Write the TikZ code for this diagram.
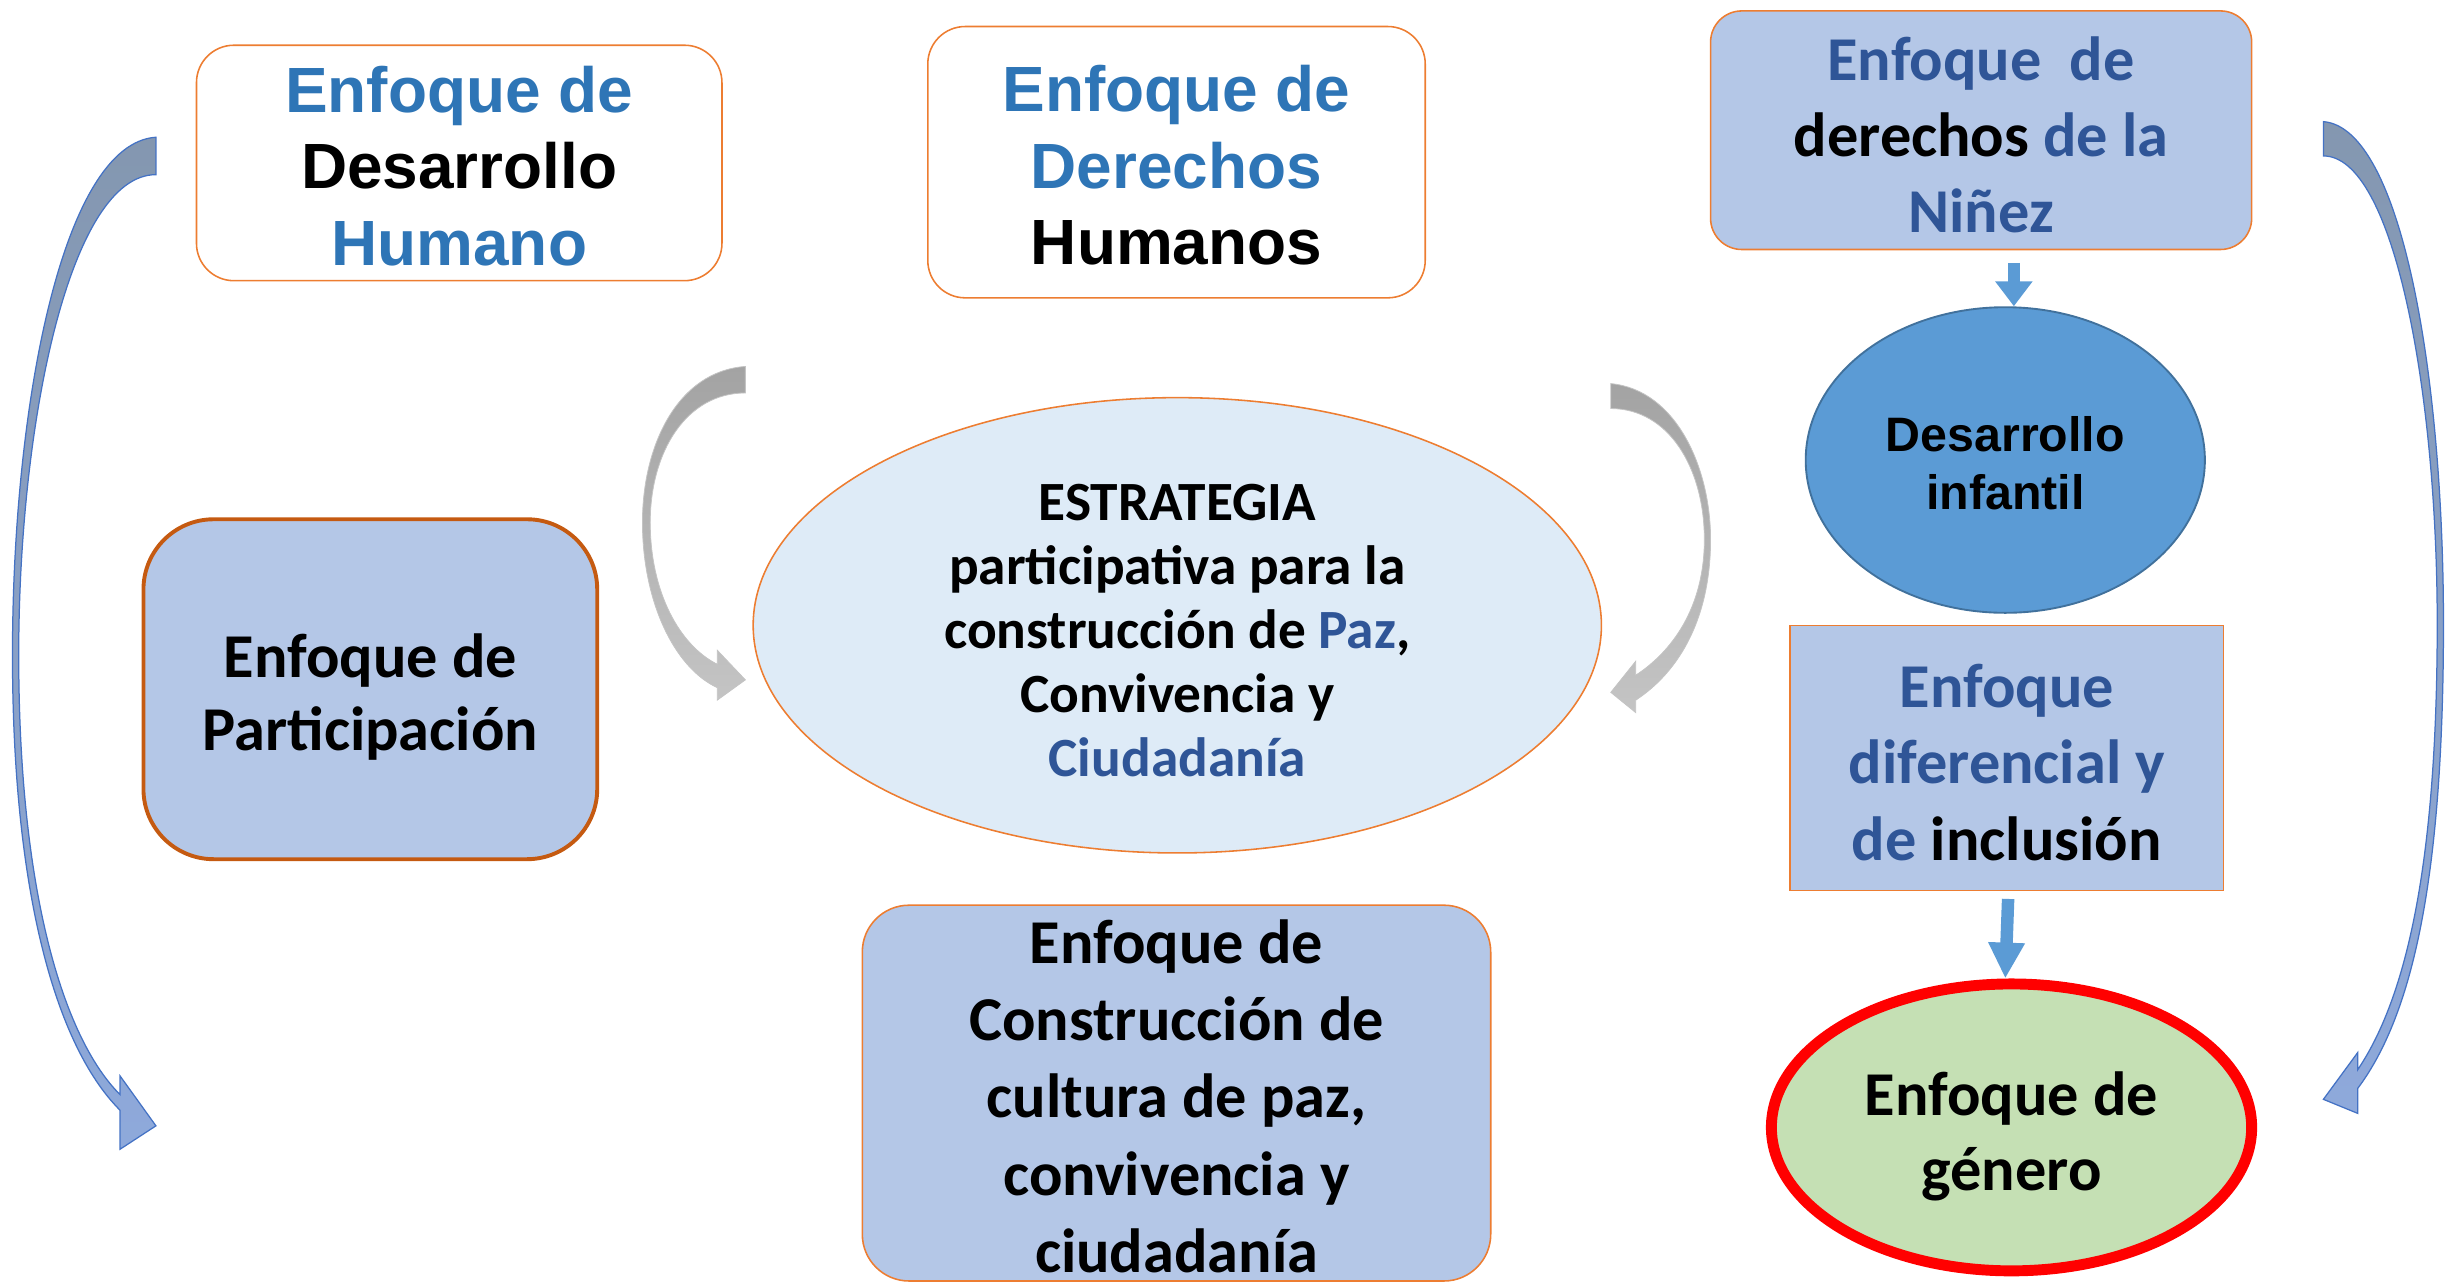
\documentclass[tikz,border=0pt]{standalone}
\usepackage{fontspec}
\setmainfont{Carlito}
\newfontfamily\arialf{Liberation Sans}
\usetikzlibrary{shapes.geometric,arrows.meta,calc}
\definecolor{borange}{HTML}{ED7D31}
\definecolor{bdark}{HTML}{C55A11}
\definecolor{lblue}{HTML}{B4C7E7}
\definecolor{tblue}{HTML}{2E75B6}
\definecolor{dblue}{HTML}{2F5597}
\definecolor{pale}{HTML}{DEEBF7}
\definecolor{midblue}{HTML}{5B9BD5}
\definecolor{edgeblue}{HTML}{41719C}
\definecolor{lgreen}{HTML}{C5E0B4}
\definecolor{arrtop}{HTML}{8497B0}
\definecolor{arrbot}{HTML}{8EA9DB}
\definecolor{arredge}{HTML}{4472C4}
\definecolor{gtop}{HTML}{A3A3A3}
\definecolor{gbot}{HTML}{C4C4C4}
\tikzset{
  boxbase/.style={inner sep=0pt},
  txt/.style={inner sep=0pt, align=center, font=\bfseries},
  whitebox/.style={boxbase, draw=borange, line width=1pt, fill=white, rounded corners=24pt},
  bluebox/.style={boxbase, draw=borange, line width=1pt, fill=lblue},
  bigblue/.style={top color=arrtop, bottom color=arrbot, draw=arredge, line width=0.8pt},
  greyarr/.style={top color=gtop, bottom color=gbot, draw=gbot, line width=0.5pt},
  sarrow/.style={draw=midblue, line width=8pt},
}
\begin{document}
\begin{tikzpicture}[x=1pt,y=-1pt]
\useasboundingbox (0,0) rectangle (1568,823);

% big blue curved arrows
\path[bigblue] (100,88) .. controls (40,92) and (8,260) .. (8,420)
  .. controls (8,570) and (35,670) .. (77,712) -- (77,737) -- (100,722) -- (77,690) -- (77,702)
  .. controls (40,665) and (12,570) .. (12,420) .. controls (12,270) and (45,112) .. (100,112) -- cycle;
\path[bigblue] (1490,78) .. controls (1540,82) and (1567,240) .. (1567,400)
  .. controls (1567,560) and (1548,650) .. (1512,698) -- (1512,714) -- (1490,705) -- (1512,675) -- (1512,686)
  .. controls (1543,640) and (1563,555) .. (1563,400) .. controls (1563,250) and (1535,100) .. (1490,100) -- cycle;

% grey curved arrows
\path[greyarr] (478,235) .. controls (435,238) and (412,285) .. (412,335)
  .. controls (412,385) and (432,428) .. (460,441) -- (460,449) -- (478,436) -- (460,417) -- (460,426)
  .. controls (436,414) and (417,380) .. (417,335) .. controls (417,290) and (440,252) .. (478,252) -- cycle;
\path[greyarr] (1033,246) .. controls (1075,250) and (1097,300) .. (1097,346)
  .. controls (1097,395) and (1078,430) .. (1049,449) -- (1049,457) -- (1033,444) -- (1049,424) -- (1049,433)
  .. controls (1072,418) and (1093,390) .. (1093,346) .. controls (1093,300) and (1070,262) .. (1033,262) -- cycle;

% shapes
\node[whitebox, minimum width=337pt, minimum height=151pt] (dh) at (294.5,104.5) {};
\node[whitebox, minimum width=319pt, minimum height=174pt] (ddhh) at (754.5,104) {};
\node[bluebox, rounded corners=20pt, minimum width=347pt, minimum height=153pt] (ninez) at (1270.5,83.5) {};
\node[ellipse, boxbase, draw=edgeblue, line width=1.2pt, fill=midblue, minimum width=256pt, minimum height=196pt] (dinf) at (1286,295) {};
\node[bluebox, minimum width=278pt, minimum height=170pt] (dif) at (1287,486) {};
\node[ellipse, boxbase, draw=red, line width=7pt, fill=lgreen, minimum width=308pt, minimum height=184pt] (gen) at (1290,723) {};
\node[bluebox, draw=bdark, line width=2.5pt, rounded corners=45pt, minimum width=291pt, minimum height=218pt] (part) at (237.5,442) {};
\node[ellipse, boxbase, draw=borange, line width=1pt, fill=pale, minimum width=544pt, minimum height=292pt] (estr) at (755,401) {};
\node[bluebox, rounded corners=30pt, minimum width=403pt, minimum height=241pt] (cons) at (754.5,701) {};

% texts
\node[txt, font=\arialf\bfseries\fontsize{41}{49}\selectfont] (dht) at ($(dh.center)+(0,2)$)
  {\textcolor{tblue}{Enfoque de}\\Desarrollo\\\textcolor{tblue}{Humano}};
\node[txt, font=\arialf\bfseries\fontsize{41}{49}\selectfont] (ddhht) at ($(ddhh.center)+(0,2)$)
  {\textcolor{tblue}{Enfoque de}\\\textcolor{tblue}{Derechos}\\Humanos};
\node[txt, font=\bfseries\fontsize{40}{49}\selectfont] (ninezt) at ($(ninez.center)+(0,3)$)
  {\textcolor{dblue}{Enfoque\ \ de}\\derechos \textcolor{dblue}{de la}\\\textcolor{dblue}{Niñez}};
\node[txt, font=\arialf\bfseries\fontsize{31}{37}\selectfont] (dinft) at ($(dinf.center)+(0,2)$)
  {Desarrollo\\infantil};
\node[txt, font=\bfseries\fontsize{40}{49}\selectfont] (dift) at ($(dif.center)+(0,3)$)
  {\textcolor{dblue}{Enfoque}\\\textcolor{dblue}{diferencial y}\\\textcolor{dblue}{de} inclusión};
\node[txt, font=\bfseries\fontsize{40}{48}\selectfont] (gent) at ($(gen.center)+(0,6)$)
  {Enfoque de\\género};
\node[txt, font=\bfseries\fontsize{40}{47}\selectfont] (partt) at ($(part.center)+(0,5)$)
  {Enfoque de\\Participación};
\node[txt, font=\bfseries\fontsize{35.5}{41}\selectfont] (estrt) at ($(estr.center)+(0,3.5)$)
  {ESTRATEGIA\\participativa para la\\construcción de \textcolor{dblue}{Paz},\\Convivencia y\\\textcolor{dblue}{Ciudadanía}};
\node[txt, font=\bfseries\fontsize{40}{49.5}\selectfont] (const) at ($(cons.center)+(0,2)$)
  {Enfoque de\\Construcción de\\cultura de paz,\\convivencia y\\ciudadanía};

% small connectors
\draw[sarrow, -{Triangle[width=23pt,length=16pt]}, shorten <=8pt] ($(ninez.south)+(21,0)$) -- ($(dinf.north)+(5.5,0)$);
\draw[sarrow, -{Triangle[width=22pt,length=23pt]}, shorten <=5pt] ($(dif.south)+(1,0)$) -- ($(gen.north)+(-4,0)$);
\end{tikzpicture}
\end{document}
